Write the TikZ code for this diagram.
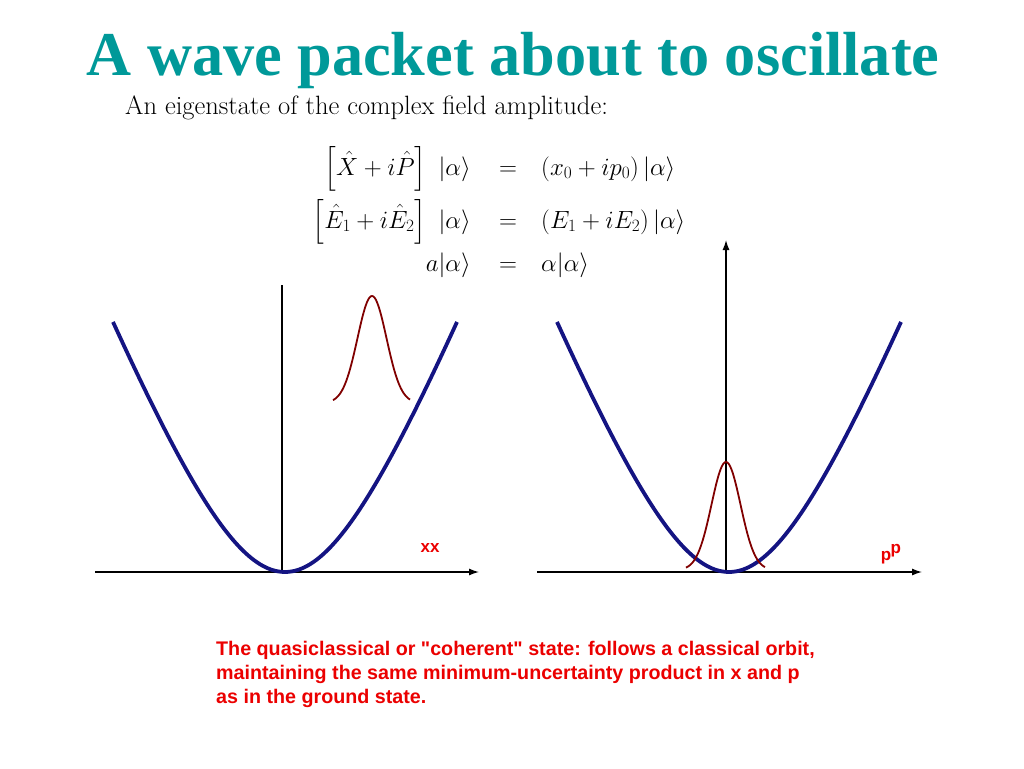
\documentclass[tikz,border=0pt]{standalone}
\usepackage{amsmath}
\usepackage{fontspec}
\usetikzlibrary{positioning, arrows.meta}
\newfontfamily\titlefont{Liberation Serif}
\newfontfamily\labelfont{Liberation Sans}
\definecolor{titleteal}{RGB}{0,153,153}
\definecolor{potblue}{RGB}{20,20,130}
\definecolor{packetred}{RGB}{128,0,0}
\definecolor{notered}{RGB}{235,0,0}

\tikzset{
  axis/.style = {line width=1.3pt, -{Latex[length=10pt, width=7pt]}},
  potential/.style = {potblue, line width=3.8pt},
  packet/.style = {packetred, line width=1.8pt},
  eqtext/.style = {inner sep=0pt, font=\fontsize{26.5}{30}\selectfont},
  redlabel/.style = {notered, inner sep=0pt, font=\labelfont\bfseries\fontsize{17}{24}\selectfont}
}

\begin{document}
\begin{tikzpicture}[x=1pt, y=-1pt]
	\useasboundingbox (0,0) rectangle (1024,768);

	%% Title
	\node [titleteal, anchor=base, inner sep=0pt, font=\titlefont\bfseries\fontsize{62.3}{68}\selectfont]
	  (title) at (513,75) {A wave packet about to oscillate};

	%% Equations
	\node [eqtext, anchor=base west] (intro) at (125,114) {An eigenstate of the complex field amplitude:};

	\node [eqtext, anchor=base] (eqA) at (508,175) {$=$};
	\node [eqtext, anchor=base east] (lhsA) at (471,175) {$\displaystyle\left[\hat{X}+i\hat{P}\right]\ |\alpha\rangle$};
	\node [eqtext, anchor=base west] (rhsA) at (541,175) {$(x_0+ip_0)\,|\alpha\rangle$};

	\node [eqtext, anchor=base] (eqB) at (508,228) {$=$};
	\node [eqtext, anchor=base east] (lhsB) at (471,228) {$\displaystyle\left[\hat{E}_1+i\hat{E}_2\right]\ |\alpha\rangle$};
	\node [eqtext, anchor=base west] (rhsB) at (541,228) {$(E_1+iE_2)\,|\alpha\rangle$};

	\node [eqtext, anchor=base] (eqC) at (508,271) {$=$};
	\node [eqtext, anchor=base east] (lhsC) at (471,271) {$a|\alpha\rangle$};
	\node [eqtext, anchor=base west] (rhsC) at (541,271) {$\alpha|\alpha\rangle$};

	%% Left plot: position
	\coordinate (xorigin) at (282,572);
	\coordinate (xstart) at (95,572);
	\coordinate (xend) at (479,572);
	\coordinate (xtop) at (282,285);
	\draw [axis] (xstart) -- (xend);
	\draw [line width=1.3pt] (xorigin) -- (xtop);
	\draw [potential] plot [domain=-172:172, samples=80, smooth] ({285+\x},{572-252.7*(sqrt(1+(\x/100)*(\x/100))-1)});
	\draw [packet] plot [domain=-39:38, samples=60, smooth] ({372+\x},{403-107*exp(-(\x*\x)/420)});
	\node [redlabel] (xlabel) at (430,548) {xx};

	%% Right plot: momentum
	\coordinate (porigin) at (726,572);
	\coordinate (pstart) at (537,572);
	\coordinate (pend) at (922,572);
	\coordinate (ptop) at (726,240);
	\draw [axis] (pstart) -- (pend);
	\draw [axis] (porigin) -- (ptop);
	\draw [potential] plot [domain=-172:172, samples=80, smooth] ({729+\x},{572-252.7*(sqrt(1+(\x/100)*(\x/100))-1)});
	\draw [packet] plot [domain=-40:39, samples=60, smooth] ({726+\x},{570-108*exp(-(\x*\x)/420)});
	\node [redlabel, anchor=base] (plabel) at (886,560) {p};
	\node [redlabel, anchor=base west, inner sep=0pt] (psup) at ([xshift=-1pt,yshift=7pt]plabel.base east) {p};

	%% Caption
	\node [redlabel, anchor=north west, align=left, font=\labelfont\bfseries\fontsize{19.7}{24}\selectfont] (note) at (216,641)
	  {The quasiclassical or "coherent" state: follows a classical orbit,\\
	   maintaining the same minimum-uncertainty product in x and p\\
	   as in the ground state.};
\end{tikzpicture}
\end{document}
